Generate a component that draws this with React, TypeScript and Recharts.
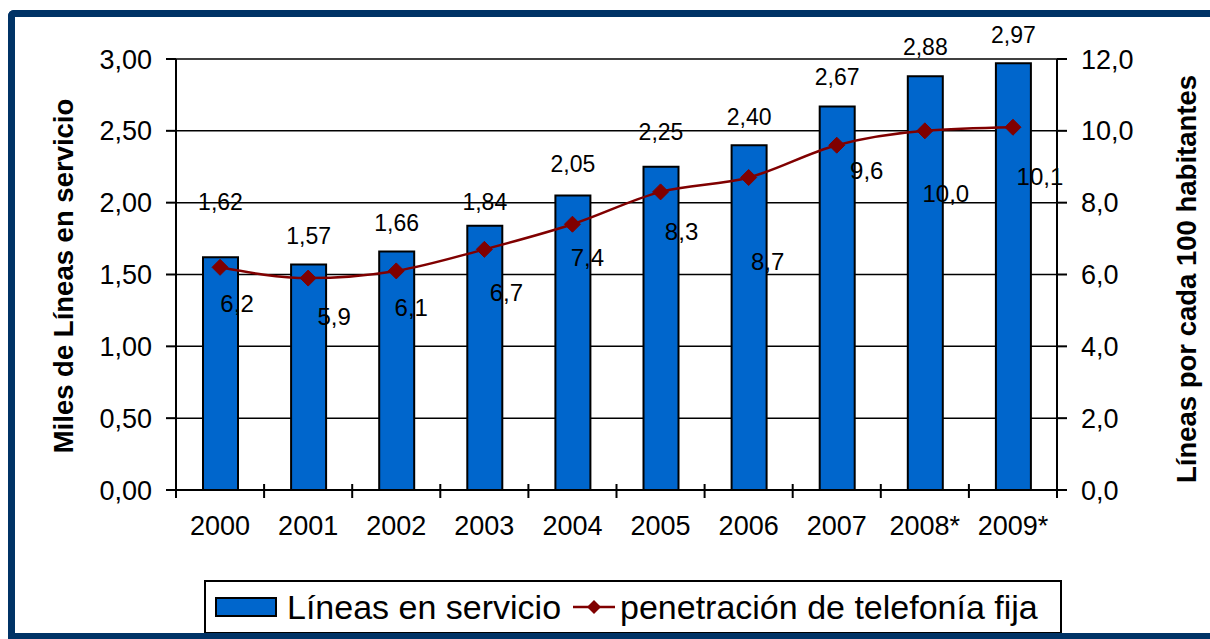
import {
  ComposedChart,
  Bar,
  Line,
  XAxis,
  YAxis,
  CartesianGrid,
  LabelList,
  Label,
} from "recharts";

const years = ["2000", "2001", "2002", "2003", "2004", "2005", "2006", "2007", "2008*", "2009*"];
const lineasMiles = [1.62, 1.57, 1.66, 1.84, 2.05, 2.25, 2.4, 2.67, 2.88, 2.97];
const penetracion = [6.2, 5.9, 6.1, 6.7, 7.4, 8.3, 8.7, 9.6, 10.0, 10.1];
const leftTicks = [0, 0.5, 1, 1.5, 2, 2.5, 3];
const rightTicks = [0, 2, 4, 6, 8, 10, 12];

// the labels in the original were nudged by hand, so each gets its own offset
const barLabelLift = [55, 28, 29, 24, 31, 35, 28, 29, 29, 28];
const lineLabelShift = [
  [17, 36], [26, 38], [15, 37], [22, 43], [15, 33],
  [21, 40], [19, 84], [30, 25], [21, 63], [27, 49],
];

const data = years.map((year, i) => ({
  year,
  lineas: lineasMiles[i],
  pen: penetracion[i],
}));

const W = 1210;
const H = 639;
const PLOT_L = 176;
const PLOT_R = 1057;
const PLOT_T = 59;
const PLOT_B = 490;
const BAND = (PLOT_R - PLOT_L) / years.length;

const FONT = "'Liberation Sans', Arial, sans-serif";
const BLUE = "#0066CC";
const RED = "#800000";
const FRAME = "#003366";

const comma = (v: number, d: number) => v.toFixed(d).replace(".", ",");

function YearTick(props: any) {
  const { x, y, payload, index } = props;
  const left = x - BAND / 2;
  const right = x + BAND / 2;
  return (
    <g>
      <line x1={left} x2={left} y1={y - 6} y2={y + 8} stroke="#000" strokeWidth={2} />
      {index === years.length - 1 && (
        <line x1={right} x2={right} y1={y - 6} y2={y + 8} stroke="#000" strokeWidth={2} />
      )}
      <text
        x={x}
        y={y + 36}
        textAnchor="middle"
        dominantBaseline="central"
        fontSize={27}
        fontFamily={FONT}
        fill="#000"
      >
        {payload.value}
      </text>
    </g>
  );
}

function Diamond(props: any) {
  const { cx, cy } = props;
  if (cx == null || cy == null) return null;
  const r = 8;
  return (
    <polygon
      points={`${cx},${cy - r} ${cx + r},${cy} ${cx},${cy + r} ${cx - r},${cy}`}
      fill={RED}
      stroke={RED}
    />
  );
}

function BarValue(props: any) {
  const { x, y, width, value, index } = props;
  return (
    <text
      x={x + width / 2}
      y={y - barLabelLift[index]}
      textAnchor="middle"
      dominantBaseline="central"
      fontSize={23}
      fontFamily={FONT}
      fill="#000"
    >
      {comma(value, 2)}
    </text>
  );
}

function LineValue(props: any) {
  const { x, y, value, index } = props;
  const [dx, dy] = lineLabelShift[index];
  return (
    <text
      x={x + dx}
      y={y + dy}
      textAnchor="middle"
      dominantBaseline="central"
      fontSize={24}
      fontFamily={FONT}
      fill="#000"
    >
      {comma(value, 1)}
    </text>
  );
}

function Legend() {
  const text: React.CSSProperties = {
    position: "absolute",
    top: 0,
    lineHeight: "50px",
    fontSize: 34,
    whiteSpace: "nowrap",
  };
  return (
    <div
      style={{
        position: "absolute",
        left: 204,
        top: 580,
        width: 858,
        height: 54,
        boxSizing: "border-box",
        border: "2px solid #000",
        background: "#fff",
        fontFamily: FONT,
        color: "#000",
      }}
    >
      <div
        style={{
          position: "absolute",
          left: 9,
          top: 15,
          width: 62,
          height: 20,
          boxSizing: "border-box",
          background: BLUE,
          border: "2px solid #000",
        }}
      />
      <span style={{ ...text, left: 81 }}>Líneas en servicio</span>
      <svg width={42} height={20} style={{ position: "absolute", left: 367, top: 15 }}>
        <line x1={0} x2={42} y1={10} y2={10} stroke={RED} strokeWidth={2.5} />
        <polygon points="21,3 28,10 21,17 14,10" fill={RED} />
      </svg>
      <span style={{ ...text, left: 414 }}>penetración de telefonía fija</span>
    </div>
  );
}

export default function App() {
  return (
    <div
      style={{
        position: "absolute",
        left: 0,
        top: 0,
        width: W,
        height: H,
        background: "#fff",
        overflow: "hidden",
      }}
    >
      <ComposedChart
        width={W}
        height={H}
        data={data}
        margin={{ top: PLOT_T, right: 0, bottom: 0, left: 0 }}
        barCategoryGap={0}
      >
        <CartesianGrid
          yAxisId="left"
          vertical={false}
          stroke="#000"
          strokeWidth={1.5}
        />
        <XAxis
          dataKey="year"
          height={H - PLOT_B}
          tickSize={0}
          tickMargin={0}
          tickLine={false}
          axisLine={{ stroke: "#000", strokeWidth: 2 }}
          tick={<YearTick />}
          interval={0}
        />
        <YAxis
          yAxisId="left"
          width={PLOT_L}
          domain={[0, 3]}
          ticks={leftTicks}
          tickFormatter={(v) => comma(v, 2)}
          tickSize={10}
          tickMargin={14}
          tick={{ fill: "#000", fontSize: 27, fontFamily: FONT }}
          axisLine={{ stroke: "#000", strokeWidth: 2 }}
          tickLine={{ stroke: "#000", strokeWidth: 2 }}
        >
          <Label
            content={() => (
              <text
                x={63}
                y={276}
                transform="rotate(-90 63 276)"
                textAnchor="middle"
                dominantBaseline="central"
                fontSize={27.5}
                fontWeight="bold"
                fontFamily={FONT}
                fill="#000"
              >
                Miles de Líneas en servicio
              </text>
            )}
          />
        </YAxis>
        <YAxis
          yAxisId="right"
          orientation="right"
          width={W - PLOT_R}
          domain={[0, 12]}
          ticks={rightTicks}
          tickFormatter={(v) => comma(v, 1)}
          tickSize={10}
          tickMargin={14}
          tick={{ fill: "#000", fontSize: 27, fontFamily: FONT }}
          axisLine={{ stroke: "#000", strokeWidth: 2 }}
          tickLine={{ stroke: "#000", strokeWidth: 2 }}
        >
          <Label
            content={() => (
              <text
                x={1186}
                y={279}
                transform="rotate(-90 1186 279)"
                textAnchor="middle"
                dominantBaseline="central"
                fontSize={27.5}
                fontWeight="bold"
                fontFamily={FONT}
                fill="#000"
              >
                Líneas por cada 100 habitantes
              </text>
            )}
          />
        </YAxis>
        <Bar
          yAxisId="left"
          dataKey="lineas"
          fill={BLUE}
          stroke="#000"
          strokeWidth={2}
          barSize={35}
          isAnimationActive={false}
        >
          <LabelList dataKey="lineas" content={<BarValue />} />
        </Bar>
        <Line
          yAxisId="right"
          type="monotone"
          dataKey="pen"
          stroke={RED}
          strokeWidth={2.5}
          dot={<Diamond />}
          activeDot={false}
          isAnimationActive={false}
        >
          <LabelList dataKey="pen" content={<LineValue />} />
        </Line>
      </ComposedChart>
      <Legend />
      <div
        style={{
          position: "absolute",
          left: 8,
          top: 10,
          width: W,
          height: H - 10,
          boxSizing: "border-box",
          borderLeft: `7px solid ${FRAME}`,
          borderTop: `7px solid ${FRAME}`,
          borderBottom: `6px solid ${FRAME}`,
          borderTopLeftRadius: 6,
          pointerEvents: "none",
        }}
      />
    </div>
  );
}
